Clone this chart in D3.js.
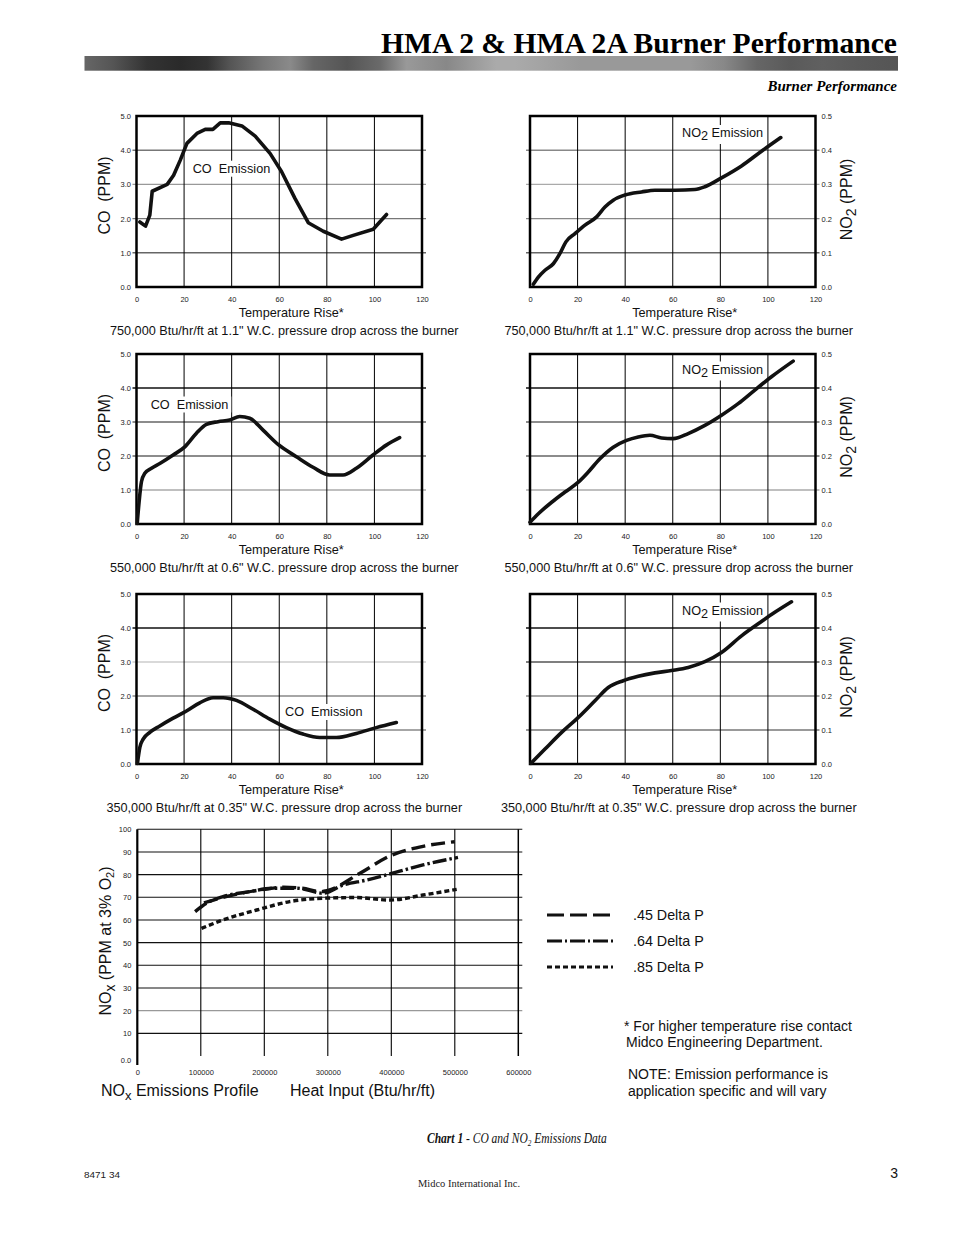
<!DOCTYPE html>
<html><head><meta charset="utf-8">
<script src="https://cdn.jsdelivr.net/npm/d3@7"></script>
<style>body{margin:0;background:#fff}svg{display:block}</style>
</head><body>
<svg id="c" width="954" height="1235"></svg>
<script>
// ---------- DATA ----------
const tempTicks = [0,20,40,60,80,100,120];
const coTicks = [0,1,2,3,4,5];
const no2Ticks = [0,0.1,0.2,0.3,0.4,0.5];

const co750 = [[1.4,1.9],[3.8,1.78],[5.6,2.1],[6.6,2.8],[12.9,3.0],[15.6,3.27],[18.4,3.71],[21.2,4.2],[25.4,4.49],[28.9,4.61],[32.1,4.61],[35.2,4.8],[38.7,4.8],[44.3,4.71],[49.9,4.41],[56.2,3.9],[61.0,3.37],[66.6,2.59],[72.2,1.88],[78.5,1.63],[86.2,1.40],[91.1,1.51],[99.5,1.69],[105.1,2.12]];
const no2750 = [[1.4,0.008],[3.5,0.029],[6.3,0.049],[9.8,0.068],[12.6,0.098],[15.1,0.132],[18.9,0.156],[23.1,0.181],[28.0,0.205],[31.5,0.234],[35.0,0.254],[39.9,0.269],[46.9,0.278],[52.5,0.283],[60.9,0.283],[69.3,0.285],[73.5,0.293],[80.5,0.319],[88.9,0.354],[97.3,0.397],[105.4,0.437]];
const co550 = [[0.3,0.02],[1.1,0.66],[2.1,1.25],[3.5,1.49],[6.3,1.64],[9.8,1.78],[15.4,2.03],[20.3,2.27],[25.2,2.67],[29.4,2.93],[34.3,3.01],[39.2,3.06],[43.4,3.16],[47.6,3.11],[53.2,2.76],[59.5,2.34],[67.2,1.98],[74.2,1.67],[81.2,1.44],[86.8,1.44],[92.4,1.64],[99.4,2.03],[105.0,2.32],[110.6,2.54]];
const no2550 = [[0,0.005],[3.5,0.03],[9.1,0.064],[14.7,0.094],[20.3,0.123],[24.5,0.153],[29.4,0.192],[35.0,0.226],[40.6,0.246],[45.5,0.256],[50.4,0.261],[55.3,0.253],[60.2,0.251],[66.5,0.266],[73.5,0.290],[80.5,0.320],[87.5,0.354],[94.5,0.394],[101.5,0.433],[110.6,0.479]];
const co350 = [[0.4,0.02],[1.4,0.49],[2.8,0.73],[5.6,0.93],[9.8,1.12],[15.4,1.35],[21.0,1.56],[26.6,1.80],[32.2,1.95],[36.4,1.95],[42.0,1.87],[49.0,1.61],[56.0,1.32],[63.0,1.07],[70.0,0.88],[77.0,0.78],[84.0,0.78],[92.4,0.90],[100.8,1.07],[109.2,1.22]];
const no2350 = [[0.4,0.002],[6.3,0.044],[13.3,0.093],[20.3,0.137],[27.3,0.186],[32.9,0.225],[39.2,0.245],[45.5,0.258],[52.5,0.268],[59.5,0.275],[66.5,0.284],[73.5,0.301],[80.5,0.328],[88.9,0.377],[97.3,0.419],[102.9,0.446],[109.9,0.477]];

const captions = [
  '750,000 Btu/hr/ft at 1.1" W.C. pressure drop across the burner',
  '550,000 Btu/hr/ft at 0.6" W.C. pressure drop across the burner',
  '350,000 Btu/hr/ft at 0.35" W.C. pressure drop across the burner'
];

const heatTicks = [0,100000,200000,300000,400000,500000,600000];
const noxTicks = [0,10,20,30,40,50,60,70,80,90,100];
const nox45 = [[105000,67.5],[150000,71],[200000,73.5],[230000,74.5],[260000,74],[290000,72.5],[300000,73],[350000,80.5],[400000,88.5],[450000,92.5],[500000,94.5]];
const nox64 = [[91000,63.7],[109000,67.4],[135000,70.3],[177000,72.5],[214000,74],[251000,74],[293000,71.8],[324000,75.4],[361000,77.6],[398000,80.3],[450000,84.3],[505000,87.6]];
const nox85 = [[101000,56.3],[135000,60],[188000,64.4],[240000,68.1],[293000,69.6],[345000,69.9],[398000,68.8],[450000,71],[503000,73.5]];
const legendLabels = ['.45 Delta P','.64 Delta P','.85 Delta P'];

// ---------- LAYOUT ----------
const SANS = '"Liberation Sans", Arial, sans-serif';
const SERIF = '"Liberation Serif", "Times New Roman", serif';
const svg = d3.select('#c');

// header
const grad = svg.append('defs').append('linearGradient').attr('id','bar').attr('x1','0%').attr('x2','100%');
[[0,'#666'],[0.035,'#555'],[0.077,'#333'],[0.118,'#2a2a2a'],[0.151,'#333'],[0.179,'#555'],[0.22,'#777'],[0.253,'#8a8a8a'],[0.281,'#666'],[0.323,'#555'],[0.363,'#6a6a6a'],[0.396,'#999'],[0.445,'#888'],[0.506,'#aaa'],[0.53,'#aaa'],[0.61,'#999'],[0.745,'#999'],[0.786,'#888'],[0.827,'#666'],[0.868,'#5a5a5a'],[0.908,'#606060'],[0.95,'#5a5a5a'],[1,'#555']]
  .forEach(s=>grad.append('stop').attr('offset',s[0]).attr('stop-color',s[1]));
svg.append('rect').attr('x',84.5).attr('y',56).attr('width',813.5).attr('height',14.7).attr('fill','url(#bar)');
svg.append('text').attr('x',897).attr('y',53).attr('text-anchor','end')
  .attr('font-family',SERIF).attr('font-weight','bold').attr('font-size',29)
  .attr('textLength',516).attr('lengthAdjust','spacingAndGlyphs')
  .text('HMA 2 & HMA 2A Burner Performance');
svg.append('text').attr('x',897).attr('y',91).attr('text-anchor','end')
  .attr('font-family',SERIF).attr('font-weight','bold').attr('font-style','italic').attr('font-size',15)
  .text('Burner Performance');

const cols = [{x0:136.5,x1:422},{x0:530,x1:815.5}];
const rows = [{y0:116,y1:287},{y0:354,y1:524},{y0:594,y1:764}];

const panels = [
  {data:co750, kind:'co', col:0, row:0, cap:captions[0], curve:d3.curveLinear, grid:['#666','#777','#999','#777'], lab:[192.7,172.7]},
  {data:no2750, kind:'no2', col:1, row:0, cap:captions[0], curve:d3.curveMonotoneX, grid:['#666','#888','#aaa','#888'], lab:[682,137]},
  {data:co550, kind:'co', col:0, row:1, cap:captions[1], curve:d3.curveMonotoneX, grid:['#aaa','#666','#666','#111'], lab:[150.7,408.5]},
  {data:no2550, kind:'no2', col:1, row:1, cap:captions[1], curve:d3.curveMonotoneX, grid:['#aaa','#666','#666','#111'], lab:[682,373.5]},
  {data:co350, kind:'co', col:0, row:2, cap:captions[2], curve:d3.curveMonotoneX, grid:['#888','#888','#ccc','#111'], lab:[285,716]},
  {data:no2350, kind:'no2', col:1, row:2, cap:captions[2], curve:d3.curveMonotoneX, grid:['#777','#888','#555','#111'], lab:[682,614.5]}
];

function styleAxis(g){
  g.attr('font-family',SANS).attr('font-size',7.5);
  g.select('.domain').remove();
  g.selectAll('.tick line').remove();
  g.selectAll('text').attr('fill','#222');
}

panels.forEach(p=>{
  const {x0,x1} = cols[p.col], {y0,y1} = rows[p.row];
  const isCO = p.kind==='co';
  const yTicks = isCO ? coTicks : no2Ticks;
  const x = d3.scaleLinear().domain([tempTicks[0], tempTicks[tempTicks.length-1]]).range([x0,x1]);
  const y = d3.scaleLinear().domain([yTicks[0], yTicks[yTicks.length-1]]).range([y1,y0]);
  const g = svg.append('g');

  g.selectAll('.hg').data(yTicks.slice(1,-1)).join('line')
    .attr('x1',x0-4).attr('x2',x1+4).attr('y1',d=>y(d)).attr('y2',d=>y(d))
    .attr('stroke',(d,i)=>p.grid[i]).attr('stroke-width',1.4);
  g.selectAll('.vg').data(tempTicks.slice(1,-1)).join('line')
    .attr('x1',d=>x(d)).attr('x2',d=>x(d)).attr('y1',y0).attr('y2',y1)
    .attr('stroke','#000').attr('stroke-width',1);

  // series label (with white background, drawn under the curve)
  const lg = g.append('g');
  const bg = lg.append('rect').attr('fill','#fff');
  const lt = lg.append('text').attr('x',p.lab[0]).attr('y',p.lab[1])
    .attr('font-family',SANS).attr('font-size',12.7).attr('fill','#111');
  if(isCO){ lt.style('white-space','pre').text('CO  Emission'); }
  else { lt.text('NO'); lt.append('tspan').attr('dy',3).text('2'); lt.append('tspan').attr('dy',-3).text(' Emission'); }
  const bb = lt.node().getBBox();
  bg.attr('x',bb.x-3).attr('y',bb.y-1).attr('width',bb.width+6).attr('height',bb.height+2);

  g.append('rect').attr('x',x0).attr('y',y0).attr('width',x1-x0).attr('height',y1-y0)
    .attr('fill','none').attr('stroke','#000').attr('stroke-width',2.5);

  g.append('g').attr('transform',`translate(0,${y1})`)
    .call(d3.axisBottom(x).tickValues(tempTicks).tickSize(0).tickPadding(10).tickFormat(d3.format('d')))
    .call(styleAxis);
  if(isCO){
    g.append('g').attr('transform',`translate(${x0},0)`)
      .call(d3.axisLeft(y).tickValues(yTicks).tickSize(0).tickPadding(5.5).tickFormat(d3.format('.1f')))
      .call(styleAxis);
  } else {
    g.append('g').attr('transform',`translate(${x1},0)`)
      .call(d3.axisRight(y).tickValues(yTicks).tickSize(0).tickPadding(6).tickFormat(d3.format('.1f')))
      .call(styleAxis);
  }

  g.append('path').datum(p.data)
    .attr('d', d3.line().x(d=>x(d[0])).y(d=>y(d[1])).curve(p.curve))
    .attr('fill','none').attr('stroke','#111').attr('stroke-width',3.6)
    .attr('stroke-linejoin','round').attr('stroke-linecap','round');

  // axis titles
  const cx = (x0+x1)/2;
  g.append('text').attr('x',cx+12).attr('y',y1+29.5).attr('text-anchor','middle')
    .attr('font-family',SANS).attr('font-size',12.7).attr('fill','#111').text('Temperature Rise*');
  g.append('text').attr('x',cx+(p.col===0?5:6)).attr('y',y1+47.5).attr('text-anchor','middle')
    .attr('font-family',SANS).attr('font-size',12.7).attr('fill','#111').text(p.cap);
  const cy = (y0+y1)/2;
  if(isCO){
    g.append('text').attr('transform',`translate(110,${cy-6}) rotate(-90)`).attr('text-anchor','middle')
      .attr('font-family',SANS).attr('font-size',16).attr('fill','#111')
      .style('white-space','pre').text('CO  (PPM)');
  } else {
    const t = g.append('text').attr('transform',`translate(852,${cy-2}) rotate(-90)`).attr('text-anchor','middle')
      .attr('font-family',SANS).attr('font-size',16).attr('fill','#111');
    t.append('tspan').text('NO');
    t.append('tspan').attr('dy',4).attr('font-size',14).text('2');
    t.append('tspan').attr('dy',-4).text(' (PPM)');
  }
});

// ---------- NOx chart ----------
{
  const X0=137.3, X1=518.3, Y0=829.3, Y1=1056;
  const x = d3.scaleLinear().domain([heatTicks[0], heatTicks[heatTicks.length-1]]).range([X0,X1]);
  const y = d3.scaleLinear().domain([noxTicks[0], noxTicks[noxTicks.length-1]]).range([Y1,Y0]);
  const g = svg.append('g');
  g.selectAll('.h').data(noxTicks.slice(1)).join('line')
    .attr('x1',X0).attr('x2',X1+4).attr('y1',d=>y(d)).attr('y2',d=>y(d))
    .attr('stroke',d=>d===20?'#999':'#111').attr('stroke-width',1.1);
  g.selectAll('.v').data(heatTicks.slice(1)).join('line')
    .attr('x1',d=>x(d)).attr('x2',d=>x(d)).attr('y1',Y0).attr('y2',Y1)
    .attr('stroke','#000').attr('stroke-width',d=>d===600000?1.5:1.1);
  g.append('line').attr('x1',X0).attr('x2',X0).attr('y1',Y0).attr('y2',Y1+9)
    .attr('stroke','#000').attr('stroke-width',2.2);

  g.append('g').attr('transform',`translate(0,${Y1+6})`)
    .call(d3.axisBottom(x).tickValues(heatTicks).tickSize(0).tickPadding(8).tickFormat(d3.format('d')))
    .call(styleAxis);
  g.append('g').attr('transform',`translate(${X0},0)`)
    .call(d3.axisLeft(y).tickValues(noxTicks).tickSize(0).tickPadding(6).tickFormat(d=>d===0?'0.0':d))
    .call(styleAxis)
    .call(a=>a.selectAll('.tick').filter(d=>d===0).select('text').attr('dy','0.9em'));

  const line = d3.line().x(d=>x(d[0])).y(d=>y(d[1])).curve(d3.curveMonotoneX);
  const styles = [
    {data:nox45, dash:'14,6'},
    {data:nox64, dash:'14,3,2.5,3'},
    {data:nox85, dash:'5,3'}
  ];
  styles.forEach(s=>{
    g.append('path').datum(s.data).attr('d',line).attr('fill','none')
      .attr('stroke','#111').attr('stroke-width',3.4).attr('stroke-dasharray',s.dash);
  });

  // y title
  const t = g.append('text').attr('transform',`translate(111,941) rotate(-90)`).attr('text-anchor','middle')
    .attr('font-family',SANS).attr('font-size',16).attr('fill','#111');
  t.append('tspan').text('NO');
  t.append('tspan').attr('dy',4).attr('font-size',14).text('x');
  t.append('tspan').attr('dy',-4).text(' (PPM at 3% O');
  t.append('tspan').attr('dy',3).attr('font-size',11).text('2');
  t.append('tspan').attr('dy',-3).text(')');

  const b = g.append('text').attr('x',101).attr('y',1095.5).attr('font-family',SANS).attr('font-size',16).attr('fill','#111');
  b.append('tspan').text('NO');
  b.append('tspan').attr('dy',4).attr('font-size',13).text('x');
  b.append('tspan').attr('dy',-4).text(' Emissions Profile');
  g.append('text').attr('x',290).attr('y',1095.5).attr('font-family',SANS).attr('font-size',16).attr('fill','#111')
    .text('Heat Input (Btu/hr/ft)');

  // legend
  const ly = [915,941,967];
  const lg = svg.append('g');
  styles.forEach((s,i)=>{
    lg.append('line').attr('x1',547).attr('x2',613).attr('y1',ly[i]).attr('y2',ly[i])
      .attr('stroke','#111').attr('stroke-width',3).attr('stroke-dasharray',[ '17,6','15,3,2,3','5,3'][i]);
    lg.append('text').attr('x',633).attr('y',ly[i]+5).attr('font-family',SANS).attr('font-size',14.3).attr('fill','#111')
      .text(legendLabels[i]);
  });
}

// notes
const notes = [['* For higher temperature rise contact',624,1031],['Midco Engineering Department.',626,1047],
  ['NOTE: Emission performance is',628,1079],['application specific and will vary',628,1096]];
notes.forEach(n=>svg.append('text').attr('x',n[1]).attr('y',n[2]).attr('font-family',SANS).attr('font-size',14).attr('fill','#111').text(n[0]));

// footer
{
  const fg = svg.append('g').attr('transform','translate(427,1143) scale(0.8,1)');
  const f = fg.append('text').attr('x',0).attr('y',0).attr('font-family',SERIF).attr('font-style','italic').attr('font-size',14.5)
    .attr('fill','#111');
  f.append('tspan').attr('font-weight','bold').text('Chart 1');
  f.append('tspan').text(' - CO and NO');
  f.append('tspan').attr('dy',3).attr('font-size',9).text('2');
  f.append('tspan').attr('dy',-3).text(' Emissions Data');
  const w = f.node().getComputedTextLength();
  fg.attr('transform',`translate(427,1143) scale(${180/w},1)`);
  svg.append('text').attr('x',84).attr('y',1178).attr('font-family',SANS).attr('font-size',9).attr('fill','#222')
    .attr('textLength',36).attr('lengthAdjust','spacingAndGlyphs').text('8471 34');
  svg.append('text').attr('x',898).attr('y',1178).attr('text-anchor','end').attr('font-family',SANS).attr('font-size',14).attr('fill','#111').text('3');
  svg.append('text').attr('x',418).attr('y',1187).attr('font-family',SERIF).attr('font-size',10.5).attr('fill','#222')
    .attr('textLength',102).attr('lengthAdjust','spacingAndGlyphs').text('Midco International Inc.');
}
</script>
</body></html>
